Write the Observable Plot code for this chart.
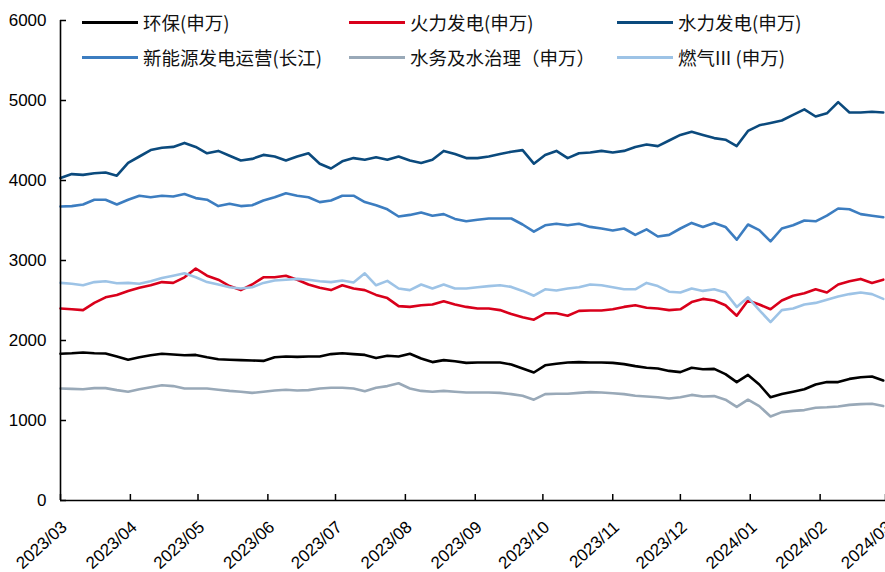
<!DOCTYPE html>
<html><head><meta charset="utf-8">
<script src="https://cdn.jsdelivr.net/npm/d3@7"></script>
<script src="https://cdn.jsdelivr.net/npm/@observablehq/plot@0.6"></script>
<style>
html,body{margin:0;padding:0;background:#fff;}
#wrap{position:relative;width:885px;height:572px;overflow:hidden;}
#legend{position:absolute;left:82px;top:9px;display:grid;grid-template-columns:267px 268px 268px;row-gap:8px;font-family:"Noto Sans CJK SC";font-size:18.5px;color:#111;}
.item{display:flex;align-items:center;height:27px;line-height:27px;white-space:nowrap;}
.sw{width:56px;height:3px;margin-right:5px;flex:none;}
</style></head>
<body><div id="wrap"><div id="chart"></div><div id="legend"></div></div>
<script>
const dates = ["2023-03-01","2023-03-06","2023-03-11","2023-03-16","2023-03-21","2023-03-26","2023-03-31","2023-04-05","2023-04-10","2023-04-15","2023-04-20","2023-04-25","2023-04-30","2023-05-05","2023-05-10","2023-05-15","2023-05-20","2023-05-25","2023-05-30","2023-06-04","2023-06-09","2023-06-14","2023-06-19","2023-06-24","2023-06-29","2023-07-04","2023-07-09","2023-07-14","2023-07-19","2023-07-24","2023-07-29","2023-08-03","2023-08-08","2023-08-13","2023-08-18","2023-08-23","2023-08-28","2023-09-02","2023-09-07","2023-09-12","2023-09-17","2023-09-22","2023-09-27","2023-10-02","2023-10-07","2023-10-12","2023-10-17","2023-10-22","2023-10-27","2023-11-01","2023-11-06","2023-11-11","2023-11-16","2023-11-21","2023-11-26","2023-12-01","2023-12-06","2023-12-11","2023-12-16","2023-12-21","2023-12-26","2023-12-31","2024-01-05","2024-01-10","2024-01-15","2024-01-20","2024-01-25","2024-01-30","2024-02-04","2024-02-09","2024-02-14","2024-02-19","2024-02-24","2024-02-29"];

const eco = [1835,1840,1850,1840,1838,1800,1760,1790,1815,1835,1825,1815,1820,1790,1765,1760,1755,1750,1745,1790,1800,1795,1800,1800,1830,1840,1830,1820,1780,1810,1800,1835,1775,1730,1755,1740,1720,1725,1725,1725,1700,1650,1600,1690,1710,1725,1730,1725,1725,1720,1705,1680,1660,1650,1620,1605,1660,1640,1645,1580,1480,1570,1450,1290,1330,1360,1390,1450,1480,1480,1520,1540,1550,1500];
const thermal = [2400,2390,2380,2470,2540,2570,2620,2660,2690,2730,2720,2790,2900,2810,2760,2680,2630,2700,2790,2790,2810,2760,2700,2660,2630,2690,2650,2630,2570,2530,2430,2420,2440,2450,2490,2450,2420,2400,2400,2380,2330,2290,2260,2340,2340,2310,2370,2375,2375,2390,2420,2440,2410,2400,2380,2390,2480,2520,2500,2440,2310,2500,2450,2390,2500,2560,2590,2640,2600,2700,2740,2770,2720,2760];
const hydro = [4030,4080,4070,4090,4100,4060,4220,4300,4380,4410,4420,4470,4420,4340,4370,4310,4250,4270,4320,4300,4250,4300,4340,4210,4150,4240,4280,4260,4290,4260,4300,4250,4220,4260,4370,4330,4280,4280,4300,4330,4360,4380,4210,4320,4370,4280,4340,4350,4370,4350,4370,4420,4450,4430,4500,4570,4610,4570,4530,4510,4430,4620,4690,4720,4750,4820,4890,4800,4840,4980,4850,4850,4860,4850];
const newEnergy = [3675,3680,3700,3760,3760,3700,3760,3810,3790,3810,3800,3830,3780,3760,3680,3710,3680,3690,3750,3790,3840,3810,3790,3730,3750,3810,3810,3730,3690,3640,3550,3570,3600,3560,3580,3520,3490,3510,3525,3525,3525,3450,3360,3440,3460,3440,3460,3420,3400,3375,3400,3320,3390,3300,3320,3400,3470,3420,3470,3420,3260,3450,3380,3240,3400,3440,3500,3490,3560,3650,3640,3580,3560,3540];
const water = [1400,1395,1390,1405,1405,1380,1360,1390,1415,1440,1430,1400,1400,1400,1385,1370,1360,1345,1360,1375,1385,1375,1380,1400,1410,1410,1400,1365,1410,1430,1465,1400,1370,1360,1370,1360,1350,1350,1350,1345,1330,1310,1260,1330,1335,1335,1345,1355,1350,1340,1330,1310,1300,1290,1275,1290,1320,1300,1305,1260,1170,1260,1180,1050,1105,1120,1130,1160,1165,1175,1195,1205,1210,1180];
const gas = [2720,2710,2690,2730,2740,2715,2720,2710,2740,2780,2810,2840,2790,2730,2700,2665,2650,2665,2720,2750,2760,2770,2760,2740,2730,2750,2725,2840,2690,2745,2650,2630,2700,2650,2700,2650,2650,2665,2680,2690,2670,2620,2560,2640,2625,2650,2665,2700,2690,2665,2640,2640,2720,2680,2610,2600,2650,2620,2640,2600,2420,2540,2380,2230,2380,2400,2450,2470,2510,2550,2580,2600,2580,2520];

const seriesNames = ["环保(申万)","火力发电(申万)","水力发电(申万)","新能源发电运营(长江)","水务及水治理（申万）","燃气III (申万)"];
const seriesColors = ["#000000","#D9001B","#0B4A7D","#3C7DC0","#99A9B8","#9DC3E6"];
const seriesValues = [eco, thermal, hydro, newEnergy, water, gas];

const xTickDates = ["2023-03-01","2023-04-01","2023-05-01","2023-06-01","2023-07-01","2023-08-01","2023-09-01","2023-10-01","2023-11-01","2023-12-01","2024-01-01","2024-02-01","2024-03-01"];
const xTickLabels = ["2023/03","2023/04","2023/05","2023/06","2023/07","2023/08","2023/09","2023/10","2023/11","2023/12","2024/01","2024/02","2024/03"];
const yTicks = [0,1000,2000,3000,4000,5000,6000];

const parse = s => new Date(s + "T00:00:00Z");
const tickDates = xTickDates.map(parse);
const labelOf = new Map(tickDates.map((d, i) => [+d, xTickLabels[i]]));
const x0 = parse("2023-03-01"), x1 = parse("2024-03-01");

const lineMarks = seriesValues.map((vals, k) =>
  Plot.lineY(dates.map((d, i) => ({date: parse(d), value: vals[i]})), {
    x: "date", y: "value", stroke: seriesColors[k], strokeWidth: 2.6, strokeLinejoin: "round", strokeLinecap: "round"
  })
);

const chart = Plot.plot({
  width: 885, height: 572,
  marginLeft: 60, marginRight: 0, marginTop: 20, marginBottom: 72,
  x: {type: "utc", domain: [x0, x1]},
  y: {domain: [0, 6000]},
  style: {fontFamily: "'Liberation Sans', Arial, sans-serif", fontSize: "17px", color: "#000", background: "#fff", overflow: "visible"},
  marks: [
    Plot.axisY({ticks: yTicks, tickSize: 0, tickPadding: 14, tickFormat: d => String(d), label: null, fontSize: 17}),
    Plot.axisY({ticks: yTicks, tickSize: -6, tickFormat: () => "", label: null, strokeWidth: 1.5}),
    Plot.axisX({ticks: tickDates, tickSize: 0, tickPadding: 24, dx: 4, tickRotate: -42, tickFormat: d => labelOf.get(+d), label: null, fontSize: 17}),
    Plot.axisX({ticks: tickDates, tickSize: -6, tickFormat: () => "", label: null, strokeWidth: 1.5}),
    ...lineMarks,
    Plot.ruleX([x0], {strokeWidth: 1.6}),
    Plot.ruleY([0], {strokeWidth: 1.6})
  ]
});
document.getElementById("chart").appendChild(chart);

const legend = document.getElementById("legend");
const order = [0, 1, 2, 3, 4, 5];
order.forEach(k => {
  const item = document.createElement("div");
  item.className = "item";
  const sw = document.createElement("span");
  sw.className = "sw";
  sw.style.background = seriesColors[k];
  const tx = document.createElement("span");
  tx.textContent = seriesNames[k];
  item.appendChild(sw); item.appendChild(tx);
  legend.appendChild(item);
});
</script></body></html>
